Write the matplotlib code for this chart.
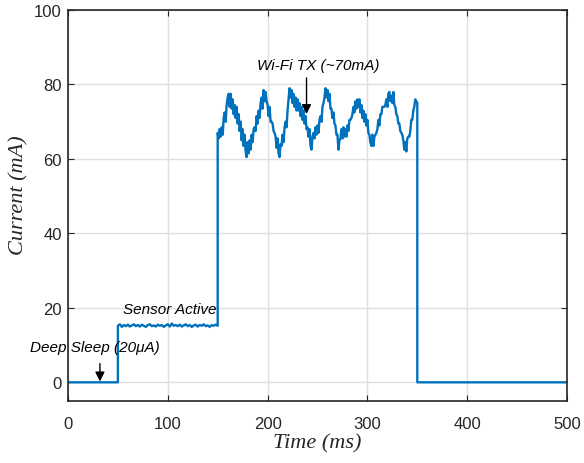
import numpy as np
import matplotlib
matplotlib.use("Agg")
import matplotlib.pyplot as plt

# data (ms, mA)
sleep_t = [0, 50]
sleep_i = [0.02, 0.02]

sensor_t = list(range(50, 151, 2))
sensor_i = [15.2, 15.6, 14.9, 15.4, 15.1, 15.5, 15.0, 15.3, 15.6, 15.1,
            15.4, 15.0, 15.5, 15.2, 14.9, 15.4, 15.6, 15.1, 15.3, 15.0,
            15.5, 15.2, 15.4, 14.9, 15.3, 15.6, 15.0, 15.8, 15.2, 15.4,
            15.1, 15.5, 15.0, 15.3, 15.6, 15.1, 15.4, 14.9, 15.3, 15.5,
            15.0, 15.4, 15.2, 15.6, 15.1, 15.3, 14.9, 15.4, 15.2, 15.5,
            15.2]

wifi_t = list(range(150, 351))
wifi_i = [67, 65.5, 68, 66, 68.5, 66.5, 71, 72.5, 70, 74.5,
          76.5, 77.5, 74, 77.5, 73.5, 76, 72, 74.5, 71, 74,
          69.5, 72, 67.5, 70, 65, 68, 63.5, 66.5, 62, 60.5,
          64.5, 61.5, 65, 62.5, 66.5, 64.5, 68, 68.5, 67.5, 71.5,
          69.5, 73, 71, 75, 76.5, 73.5, 78.5, 75.5, 78, 75.5,
          74.5, 71.5, 74, 70, 70, 69.5, 67.5, 67, 66, 63,
          65.5, 61.5, 60.5, 64, 63.5, 66.5, 64.5, 68.5, 70, 68.5,
          73, 76, 79, 76.5, 78.5, 75, 77.5, 74, 76.5, 73,
          76, 73, 75, 71.5, 74, 70.5, 73, 69.5, 71.5, 68,
          68.5, 66, 68, 63.5, 62.5, 66, 67, 65.5, 68.5, 66.5,
          69, 67, 70.5, 71.5, 70, 74, 75, 76.5, 79, 76.5,
          78.5, 75.5, 77.5, 73.5, 73.5, 71, 72.5, 69.5, 69, 66.5,
          66.5, 62.5, 65, 65.5, 68, 65.5, 68.5, 66, 68, 66,
          69, 67.5, 70.5, 70.5, 71, 72, 74, 72.5, 75.5, 73.5,
          76, 74, 76, 72.5, 74.5, 71, 73, 70, 72, 69,
          70.5, 67, 66.5, 64.5, 63.5, 66.5, 63.5, 66, 66.5, 67,
          68, 70.5, 69, 72, 72, 74, 74, 74, 74.5, 76,
          74, 77.5, 78, 75.5, 77, 75, 78, 74.5, 74, 72,
          71.5, 69.5, 69.5, 67.5, 67, 66.5, 65, 62.5, 64.5, 62,
          65.5, 66, 66, 67.5, 70.5, 70.5, 73, 74, 76, 75.5,
          75]

idle_t = [350, 500]
idle_i = [0.02, 0.02]

t = sleep_t + sensor_t + wifi_t + idle_t
cur = sleep_i + sensor_i + wifi_i + idle_i

#plot
fig = plt.figure(figsize=(5.84, 4.64), dpi=100)
ax = fig.add_axes([0.1164, 0.1336, 0.8545, 0.8427])

ax.plot(t, cur, color="#0072BD", linewidth=1.7)

ax.set_xlim(0, 500)
ax.set_ylim(-5, 100)
ax.set_xticks([0, 100, 200, 300, 400, 500])
ax.set_yticks([0, 20, 40, 60, 80, 100])
ax.grid(True, color="#dfdfdf", linewidth=1)
ax.set_axisbelow(True)
ax.tick_params(direction="in", top=True, right=True, length=4,
               color="#262626", labelsize=12, labelcolor="#262626")
ax.tick_params(axis="x", pad=11)
ax.tick_params(axis="y", pad=4.5)
for lab in ax.get_xticklabels() + ax.get_yticklabels():
    lab.set_family("Liberation Sans")
for s in ax.spines.values():
    s.set_color("#262626")
    s.set_linewidth(1.2)

ax.set_xlabel("Time (ms)", family="Liberation Serif", style="italic",
              fontsize=16, color="#262626")
ax.set_ylabel("Current (mA)", family="Liberation Serif", style="italic",
              fontsize=16, color="#262626")
ax.xaxis.set_label_coords(0.5, -0.083)
ax.yaxis.set_label_coords(-0.08, 0.53)

ann = dict(family="Liberation Sans", style="italic", fontsize=11, color="black")
arr = dict(arrowstyle="-|>", color="black", lw=1, mutation_scale=14)

ax.annotate("", xy=(32, -0.5), xytext=(32, 5.8), arrowprops=arr)
ax.text(-38, 9.5, "Deep Sleep (20\u03bcA)", va="center", ha="left",
        clip_on=False, **ann)
ax.text(102, 19.6, "Sensor Active", va="center", ha="center", **ann)
ax.annotate("", xy=(239, 71.3), xytext=(239, 82.5), arrowprops=arr)
ax.text(251, 85.2, "Wi-Fi TX (~70mA)", va="center", ha="center", **ann)

fig.savefig("out.png", dpi=100)
